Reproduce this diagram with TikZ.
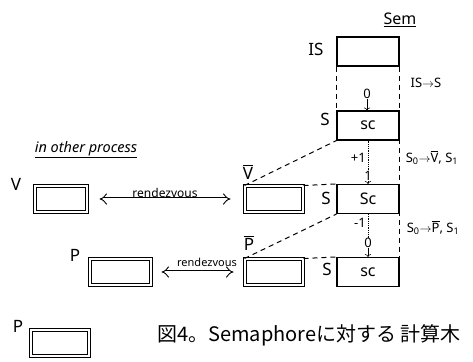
\documentclass[tikz,border=0pt]{standalone}
\usepackage{fontspec}
\setmainfont{Noto Sans}
\newfontfamily\cjk{Noto Sans CJK JP}
\usetikzlibrary{arrows.meta}
\newcommand{\bartxt}[1]{$\overline{\mbox{#1}}$}
\tikzset{
  sbox/.style={draw, line width=1.1pt, minimum width=62pt, minimum height=29pt, inner sep=0pt,
    font=\fontsize{16}{16}\selectfont},
  pbox/.style={draw, line width=1pt, double, double distance=1.5pt, minimum height=26pt, inner sep=0pt},
  lab/.style={font=\fontsize{17}{17}\selectfont, inner sep=0pt},
  small/.style={font=\fontsize{13}{13}\selectfont, inner sep=0pt},
  link/.style={line width=1pt, dash pattern=on 5pt off 4pt},
  rdv/.style={line width=0.9pt, double, double distance=3pt, {Implies}-{Implies}}
}
\begin{document}
\begin{tikzpicture}[x=1pt,y=-1pt]
  \useasboundingbox (0,0) rectangle (473,361);
  % semaphore column
  \node[font=\fontsize{16}{16}\selectfont] (sem) at (400,20) {\underline{Sem}};
  \node[sbox] (is) at (368,51.5) {};
  \node[sbox] (s1) at (368,125.5) {sc};
  \node[sbox] (s2) at (368,199) {Sc};
  \node[sbox] (s3) at (368,272) {sc};
  \node[lab] (lis) at (316,49) {IS};
  \node[lab] (ls1) at (325,119) {S};
  \node[lab] (ls2) at (326,198) {S};
  \node[lab] (ls3) at (327,269) {S};
  \draw[link] (is.south west) -- (s1.north west);
  \draw[link] (is.south east) -- (s3.north east);
  \node[small] (t1) at (426,83) {IS$\to$S};
  \node[small] (t2) at (432,158) {S\textsubscript{0}$\to$\bartxt{V}, S\textsubscript{1}};
  \node[small] (t3) at (433,228) {S\textsubscript{0}$\to$\bartxt{P}, S\textsubscript{1}};
  % counter values
  \node[small] (n0) at (367,94) {0};
  \draw[->, semithick] (n0) -- (n0 |- s1.north);
  \node[small] (n1) at (368,176) {1};
  \node[small, anchor=east] (inc) at (366,158) {+1};
  \draw[thick, densely dotted] (s1.south) -- (n1);
  \draw[->, semithick] (n1) -- (n1 |- s2.north);
  \node[small] (n2) at (368,243) {0};
  \node[small, anchor=east] (dec) at (366,223) {-1};
  \draw[thick, densely dotted] (s2.south) -- (n2);
  \draw[->, semithick] (n2) -- (n2 |- s3.north);
  % other process
  \node[font=\fontsize{14.5}{14.5}\selectfont\itshape] (other) at (86,150) {\underline{in other process}};
  \node[pbox, minimum width=52pt] (v) at (61,199) {};
  \node[pbox, minimum width=58pt] (vb) at (274,199) {};
  \node[pbox, minimum width=61pt] (pm) at (120.5,272) {};
  \node[pbox, minimum width=58pt] (pb) at (274,272) {};
  \node[pbox, minimum width=58pt] (pl) at (60,343) {};
  \node[lab] (lv) at (16,184) {V};
  \node[lab] (lvb) at (248,172) {\bartxt{V}};
  \node[lab] (lpm) at (75,255) {P};
  \node[lab] (lpb) at (249,243) {\bartxt{P}};
  \node[lab] (lpl) at (18,326) {P};
  \draw[link] (vb.north west) -- (s1.south west);
  \draw[link] (vb.north east) -- (s2.north west);
  \draw[link] (pb.north west) -- (s2.south west);
  \draw[link] (pb.north east) -- (s3.north west);
  \draw[rdv, shorten <=12pt, shorten >=14pt] (v) -- (vb);
  \node[font=\fontsize{12}{12}\selectfont, inner sep=0pt] (rz1) at (165,193) {rendezvous};
  \draw[rdv, shorten <=10pt, shorten >=11pt] (pm) -- (pb);
  \node[font=\fontsize{11}{11}\selectfont, inner sep=0pt] (rz2) at (207,262) {rendezvous};
  % caption
  \node[font=\cjk\fontsize{20}{20}\selectfont] (cap) at (309,335) {図4。Semaphoreに対する\ 計算木};
\end{tikzpicture}
\end{document}
